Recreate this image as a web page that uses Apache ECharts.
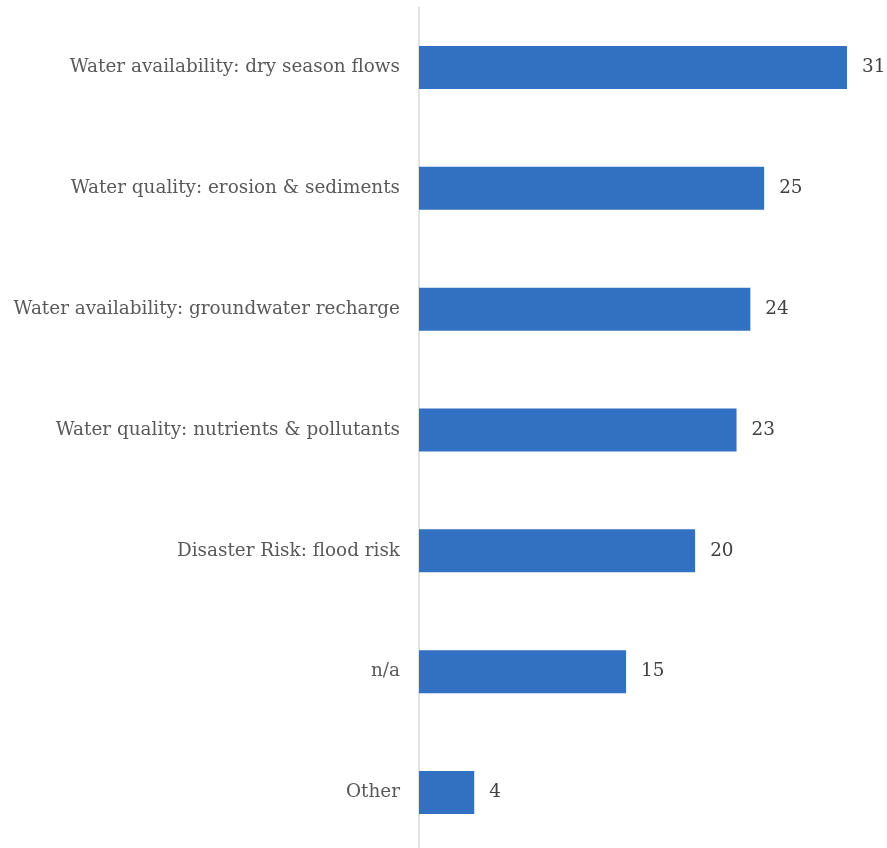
<!DOCTYPE html>
<html><head><meta charset="utf-8">
<script src="https://cdn.jsdelivr.net/npm/echarts@6/dist/echarts.min.js"></script>
<style>html,body{margin:0;padding:0;background:#fff}#c{width:887px;height:848px}</style>
</head><body><div id="c"></div>
<script>
const categories = ["Water availability: dry season flows","Water quality: erosion & sediments","Water availability: groundwater recharge","Water quality: nutrients & pollutants","Disaster Risk: flood risk","n/a","Other"];
const values = [31,25,24,23,20,15,4];
const chart = echarts.init(document.getElementById('c'));
const font = "'DejaVu Serif', Georgia, serif";
chart.setOption({
  animation:false,
  grid:{left:419,width:428,top:7,height:846,containLabel:false,outerBoundsMode:'none'},
  xAxis:{type:'value',min:0,max:31,show:false},
  yAxis:{type:'category',inverse:true,data:categories,
    axisLine:{show:true,lineStyle:{color:'#d9d9d9',width:1.5}},
    axisTick:{show:false},
    axisLabel:{color:'#595959',fontFamily:font,fontSize:18.4,margin:19}},
  series:[{type:'bar',data:values,barWidth:43,
    itemStyle:{color:'#3270c2'},
    label:{show:true,position:'right',distance:15,color:'#404040',fontFamily:font,fontSize:18.4}}]
});
</script></body></html>
